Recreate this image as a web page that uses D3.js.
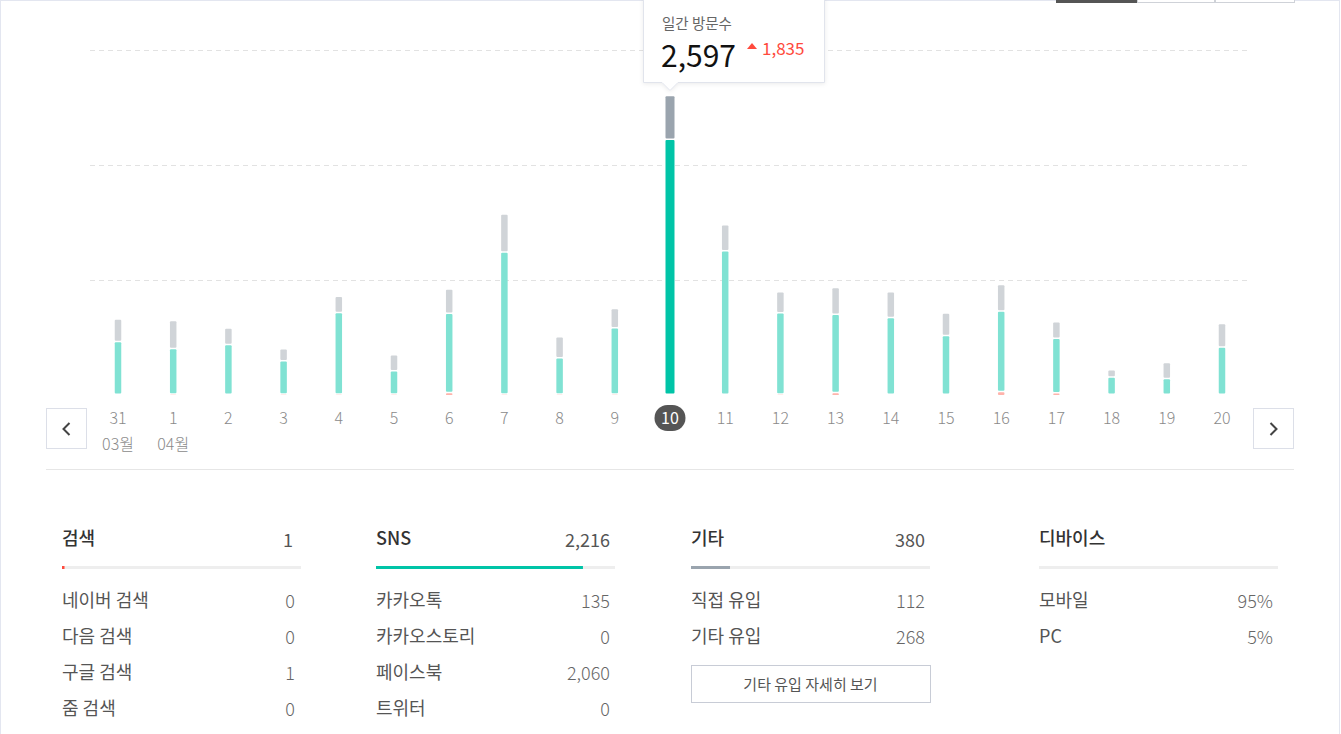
<!DOCTYPE html>
<html><head><meta charset="utf-8">
<script src="https://cdn.jsdelivr.net/npm/d3@7"></script>
<style>
body{margin:0;background:#fff;font-family:"Noto Sans CJK KR","Noto Sans",sans-serif;}
svg{display:block;}
</style></head>
<body>
<svg id="c" width="1341" height="734"></svg>
<script>
// ---- data ----
const days = ["31","1","2","3","4","5","6","7","8","9","10","11","12","13","14","15","16","17","18","19","20"];
const searchVals = [0,2,0,2,2,2,15,2,2,2,1,0,2,15,0,0,25,12,0,0,0];
const snsVals    = [459,396,433,289,709,202,690,1235,315,576,2216,1248,706,680,668,511,700,474,150,137,410];
const etcVals    = [195,243,143,104,142,139,210,330,182,167,380,226,183,234,223,195,230,144,63,140,206];
const gridTicks = [1000,2000,3000];
const selectedDay = "10";
const tooltipTitle = "일간 방문수";
const tooltipTotal = "2,597";
const tooltipDelta = "1,835";
const monthLabels = [{day:"31",label:"03월"},{day:"1",label:"04월"}];

const panels = [
  {title:"검색", total:"1", ratio:1/2597, color:"#ff4a3d", rows:[["네이버 검색","0"],["다음 검색","0"],["구글 검색","1"],["줌 검색","0"]]},
  {title:"SNS", total:"2,216", ratio:2216/2597, color:"#00c4a7", rows:[["카카오톡","135"],["카카오스토리","0"],["페이스북","2,060"],["트위터","0"]]},
  {title:"기타", total:"380", ratio:380/2597, color:"#9aa4ae", rows:[["직접 유입","112"],["기타 유입","268"]], button:"기타 유입 자세히 보기"},
  {title:"디바이스", total:"", ratio:0, color:"#ccc", rows:[["모바일","95%"],["PC","5%"]]}
];

// ---- drawing ----
const svg = d3.select("#c");
const W = 1341, H = 734;

svg.append("rect").attr("x",0.5).attr("y",0.5).attr("width",W-2).attr("height",H+10)
  .attr("fill","#fff").attr("stroke","#e3e6f0");

const tabs = [{x0:1056,x1:1137,on:true},{x0:1137,x1:1215,on:false},{x0:1215,x1:1295,on:false}];
svg.selectAll("rect.tab").data(tabs).join("rect").attr("class","tab")
  .attr("x",d=>d.x0+0.5).attr("y",-30).attr("width",d=>d.x1-d.x0-1).attr("height",32.5)
  .attr("fill",d=>d.on?"#555":"#fff").attr("stroke",d=>d.on?"#555":"#cfd2d8");

const data = days.map((d,i)=>({day:d, search:searchVals[i], sns:snsVals[i], etc:etcVals[i]}));
const keys = ["search","sns","etc"];
const stack = d3.stack().keys(keys)(data);

const x = d3.scaleBand().domain(days).range([90.4,1249.6]).paddingInner(0).paddingOuter(0);
const y = d3.scaleLinear().domain([0,3000]).range([395,50]);

svg.append("g").selectAll("line").data(gridTicks).join("line")
  .attr("x1",90).attr("x2",1249).attr("y1",d=>Math.round(y(d))+0.5).attr("y2",d=>Math.round(y(d))+0.5)
  .attr("stroke","#e2e2e2").attr("stroke-width",1.2).attr("stroke-dasharray","5,4");

const colors = {
  search:{n:"#ffb3ab", s:"#ff4a3d"},
  sns:{n:"#80e2d3", s:"#00c4a7"},
  etc:{n:"#d0d4d8", s:"#9aa4ae"}
};

const gBars = svg.append("g");
stack.forEach((layer,li)=>{
  gBars.selectAll(null).data(layer).join("rect")
    .attr("x",d=>{const sel=d.data.day===selectedDay;const w=sel?9:6.5;return x(d.data.day)+x.bandwidth()/2-w/2;})
    .attr("width",d=>d.data.day===selectedDay?9:6.5)
    .attr("y",d=>y(d[1]))
    .attr("height",d=>{const h=y(d[0])-y(d[1])-(li>0?1.5:0);return Math.max(0,h);})
    .attr("rx",1)
    .attr("fill",d=>d.data.day===selectedDay?colors[layer.key].s:colors[layer.key].n);
});

const gx = svg.append("g");
const selX = x(selectedDay)+x.bandwidth()/2;
gx.append("rect").attr("x",selX-15.5).attr("y",405).attr("width",31).attr("height",26).attr("rx",13)
  .attr("fill","#555");
gx.selectAll("text.day").data(days).join("text").attr("class","day")
  .attr("x",d=>x(d)+x.bandwidth()/2).attr("y",424)
  .attr("text-anchor","middle").attr("font-size",16).attr("font-weight",d=>d===selectedDay?400:300)
  .attr("fill",d=>d===selectedDay?"#fff":"#8a8a8a").text(d=>d);
gx.selectAll("text.mon").data(monthLabels).join("text").attr("class","mon")
  .attr("x",d=>x(d.day)+x.bandwidth()/2).attr("y",450)
  .attr("text-anchor","middle").attr("font-size",16).attr("font-weight",300).attr("fill","#8a8a8a").text(d=>d.label);

[{x:46,dir:-1},{x:1253,dir:1}].forEach(b=>{
  svg.append("rect").attr("x",b.x+0.5).attr("y",408.5).attr("width",40).attr("height",40)
    .attr("fill","#fff").attr("stroke","#dcdfe8");
  const cx=b.x+20.5, cy=429;
  svg.append("path").attr("d",`M${cx-3*b.dir},${cy-6}L${cx+3*b.dir},${cy}L${cx-3*b.dir},${cy+6}`)
    .attr("fill","none").attr("stroke","#444").attr("stroke-width",2);
});

svg.append("line").attr("x1",46).attr("x2",1294).attr("y1",469.5).attr("y2",469.5).attr("stroke","#e6e6e6");

// tooltip
const tt = svg.append("g");
const defs = svg.append("defs");
const f = defs.append("filter").attr("id","sh").attr("x","-20%").attr("y","-20%").attr("width","140%").attr("height","150%");
f.append("feDropShadow").attr("dx",0).attr("dy",1).attr("stdDeviation",2).attr("flood-color","#000").attr("flood-opacity",0.08);
const tx0=643.5, tx1=824.5, ty1=82.5;
tt.append("path")
  .attr("d",`M${tx0},-2L${tx1},-2L${tx1},${ty1}L${selX+8},${ty1}L${selX},${ty1+8}L${selX-8},${ty1}L${tx0},${ty1}Z`)
  .attr("fill","#fff").attr("stroke","#e1e4ec").attr("filter","url(#sh)");
tt.append("text").attr("x",662).attr("y",29).attr("font-size",14.5).attr("fill","#666").text(tooltipTitle);
tt.append("text").attr("x",661).attr("y",67).attr("font-size",30).attr("fill","#111").text(tooltipTotal);
tt.append("path").attr("d","M747,49L752,43L757,49Z").attr("fill","#ff4a3d");
tt.append("text").attr("x",762).attr("y",55).attr("font-size",17).attr("fill","#ff4a3d").text(tooltipDelta);

// bottom panels
const panelX = [62,376,691,1039];
const pw = 239;
panels.forEach((p,i)=>{
  const g = svg.append("g").attr("transform",`translate(${panelX[i]},0)`);
  g.append("text").attr("x",0).attr("y",545).attr("font-size",18).attr("font-weight",500).attr("fill","#333").text(p.title);
  g.append("text").attr("x",i===0?231:234).attr("y",547).attr("text-anchor","end").attr("font-size",18).attr("fill","#555").text(p.total);
  g.append("rect").attr("x",0).attr("y",566).attr("width",pw).attr("height",3).attr("fill","#eeeeee");
  const fillW = i===0?2.5:(i===2?39:pw*p.ratio+3);
  if(p.ratio>0) g.append("rect").attr("x",0).attr("y",566).attr("width",fillW).attr("height",3).attr("fill",p.color);
  p.rows.forEach((r,j)=>{
    const yy = 607 + j*36;
    g.append("text").attr("x",0).attr("y",yy).attr("font-size",18).attr("fill","#555").text(r[0]);
    g.append("text").attr("x",i===0?233:234).attr("y",yy+1).attr("text-anchor","end").attr("font-size",18).attr("font-weight",300).attr("fill","#666").text(r[1]);
  });
  if(p.button){
    g.append("rect").attr("x",0.5).attr("y",665.5).attr("width",pw).attr("height",37).attr("fill","#fff").attr("stroke","#c8ccd6");
    g.append("text").attr("x",pw/2).attr("y",690).attr("text-anchor","middle").attr("font-size",15).attr("fill","#555").text(p.button);
  }
});
</script>
</body></html>
